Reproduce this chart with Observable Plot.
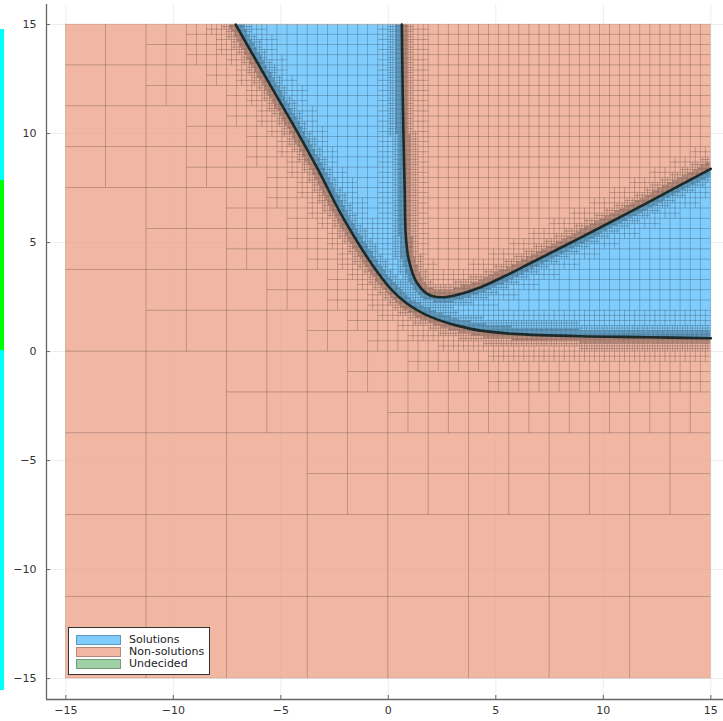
<!DOCTYPE html>
<html><head><meta charset="utf-8">
<script src="https://cdn.jsdelivr.net/npm/d3@7"></script>
<script src="https://cdn.jsdelivr.net/npm/@observablehq/plot@0.6"></script>
<style>
body{margin:0;background:#fff;}
#wrap{position:relative;width:723px;height:721px;overflow:hidden;font-family:"DejaVu Sans",sans-serif;}
#wrap svg{position:absolute;left:0;top:0;}
.edge{position:absolute;left:0;width:4px;}
#legend{position:absolute;left:68px;top:627px;width:142px;height:48px;background:#fff;border:1px solid #333;box-sizing:border-box;padding:6px 0 0 7px;}
.item{display:flex;align-items:center;height:12px;font-size:11px;color:#222;line-height:12px;}
.sw{width:45px;height:10px;margin-right:8px;box-sizing:border-box;border:0.5px solid rgba(0,0,0,0.25);}
</style></head><body><div id="wrap"></div>
<script>
// ---- data ----
const seriesNames = ["Solutions", "Non-solutions", "Undecided"];
const seriesColors = ["#80ccfc", "#f1b7a3", "#9ed1a6"];
const searchBox = [-15, 15];
const xTicks = [-15, -10, -5, 0, 5, 10, 15];
const yTicks = [-15, -10, -5, 0, 5, 10, 15];
// lower boundary of the solution set
const lowerX = [-7.1, -5.8, -4.54, -3.3, -2.2, -1.45, -0.67, 0.11, 0.88, 1.66, 2.43, 3.2, 4.29, 5.84, 8.95, 12.05, 15];
const lowerY = [15, 12.75, 10.6, 8.4, 6.3, 5.05, 3.87, 2.88, 2.19, 1.73, 1.42, 1.19, 0.96, 0.81, 0.70, 0.66, 0.61];
// upper (V-shaped) boundary of the solution set
const upperX = [0.63, 0.66, 0.70, 0.76, 0.80, 0.88, 0.96, 1.27, 1.81, 2.43, 3.2, 4.29, 5.5, 6.6, 8.79, 11.27, 13.6, 15];
const upperY = [15, 12.5, 10.1, 7.4, 5.5, 4.63, 4.17, 3.26, 2.65, 2.49, 2.6, 2.95, 3.5, 4.05, 5.15, 6.42, 7.65, 8.38];

// ---- derived geometry ----
const curve1 = lowerX.map((x, i) => [x, lowerY[i]]);
const curve2 = upperX.map((x, i) => [x, upperY[i]]);
const solutionPoly = [...curve1, ...curve2.slice().reverse(), curve1[0]];
const aboveLower = [...curve1, [searchBox[1], searchBox[1]], curve1[0]];
const bg = [{x1: searchBox[0], x2: searchBox[1], y1: searchBox[0], y2: searchBox[1]}];

function segDist(px, py, a, b) {
  const dx = b[0] - a[0], dy = b[1] - a[1];
  let t = ((px - a[0]) * dx + (py - a[1]) * dy) / (dx * dx + dy * dy);
  t = Math.max(0, Math.min(1, t));
  const ex = a[0] + t * dx - px, ey = a[1] + t * dy - py;
  return Math.sqrt(ex * ex + ey * ey);
}
function distCurves(px, py) {
  let m = Infinity;
  for (const c of [curve1, curve2]) for (let i = 0; i < c.length - 1; i++) m = Math.min(m, segDist(px, py, c[i], c[i + 1]));
  return m;
}
// bisection paving (boxes) driven by the boundary
const boxes = [];
const maxDepth = 9, near = 2.5, uniformDepth = 6;
function split(x0, y0, x1, y1, depth) {
  const s = x1 - x0, cx = (x0 + x1) / 2, cy = (y0 + y1) / 2;
  let go = depth < 2;
  if (!go && depth < maxDepth) {
    if (distCurves(cx, cy) < near * s) go = true;
    else if (depth < uniformDepth && d3.polygonContains(aboveLower, [cx, cy])) go = true;
  }
  if (go) {
    split(x0, y0, cx, cy, depth + 1); split(cx, y0, x1, cy, depth + 1);
    split(x0, cy, cx, y1, depth + 1); split(cx, cy, x1, y1, depth + 1);
  } else boxes.push({x1: x0, x2: x1, y1: y0, y2: y1});
}
split(searchBox[0], searchBox[0], searchBox[1], searchBox[1], 0);

const W = 723, H = 721, mL = 46, mR = 0, mT = 4, mB = 22;
const xDomain = [-15.9, 15.59], yDomain = [-15.96, 15.92];
const fmt = d3.format("d");

const plot = Plot.plot({
  width: W, height: H,
  marginLeft: mL, marginRight: mR, marginTop: mT, marginBottom: mB,
  x: {domain: xDomain}, y: {domain: yDomain},
  style: {fontFamily: "DejaVu Sans", fontSize: "11px", color: "#333", background: "transparent"},
  marks: [
    Plot.gridX(xTicks, {stroke: "#000", strokeOpacity: 0.1, strokeWidth: 0.5}),
    Plot.gridY(yTicks, {stroke: "#000", strokeOpacity: 0.1, strokeWidth: 0.5}),
    Plot.rect(bg, {x1: "x1", x2: "x2", y1: "y1", y2: "y2", fill: seriesColors[1]}),
    Plot.line(solutionPoly, {x: d => d[0], y: d => d[1], fill: seriesColors[0], stroke: "none"}),
    Plot.rect(boxes, {x1: "x1", x2: "x2", y1: "y1", y2: "y2", fill: "none", stroke: "#000", strokeOpacity: 0.15, strokeWidth: 0.7}),
    Plot.line(curve1, {x: d => d[0], y: d => d[1], curve: "catmull-rom", stroke: "#1c2a2a", strokeWidth: 2.6}),
    Plot.line(curve2, {x: d => d[0], y: d => d[1], curve: "catmull-rom", stroke: "#1c2a2a", strokeWidth: 2.6}),
    Plot.gridX(xTicks, {stroke: "#000", strokeOpacity: 0.05, strokeWidth: 0.5}),
    Plot.gridY(yTicks, {stroke: "#000", strokeOpacity: 0.05, strokeWidth: 0.5}),
    Plot.ruleX([xDomain[0]], {stroke: "#666", strokeWidth: 1.3}),
    Plot.ruleY([yDomain[0]], {stroke: "#666", strokeWidth: 1.3}),
    Plot.tickX(xTicks, {x: d => d, stroke: "#666", insetTop: H - mT - mB - 4}),
    Plot.tickY(yTicks, {y: d => d, stroke: "#666", insetRight: W - mL - mR - 4}),
    Plot.axisX(xTicks, {anchor: "bottom", tickSize: 0, tickPadding: 7, tickFormat: fmt, label: null}),
    Plot.axisY(yTicks, {anchor: "left", tickSize: 0, tickPadding: 10, tickFormat: fmt, label: null})
  ]
});

const wrap = document.getElementById("wrap");
wrap.appendChild(plot);
// stray colour strip at left edge of the original picture
for (const [top, h, col] of [[29, 661, "#00ffff"], [180, 170, "#00ff00"]]) {
  const e = document.createElement("div");
  e.className = "edge"; e.style.top = top + "px"; e.style.height = h + "px"; e.style.background = col;
  wrap.appendChild(e);
}
const leg = document.createElement("div");
leg.id = "legend";
seriesNames.forEach((n, i) => {
  const it = document.createElement("div"); it.className = "item";
  const sw = document.createElement("div"); sw.className = "sw"; sw.style.background = seriesColors[i];
  const t = document.createElement("span"); t.textContent = n;
  it.appendChild(sw); it.appendChild(t); leg.appendChild(it);
});
wrap.appendChild(leg);
</script></body></html>
